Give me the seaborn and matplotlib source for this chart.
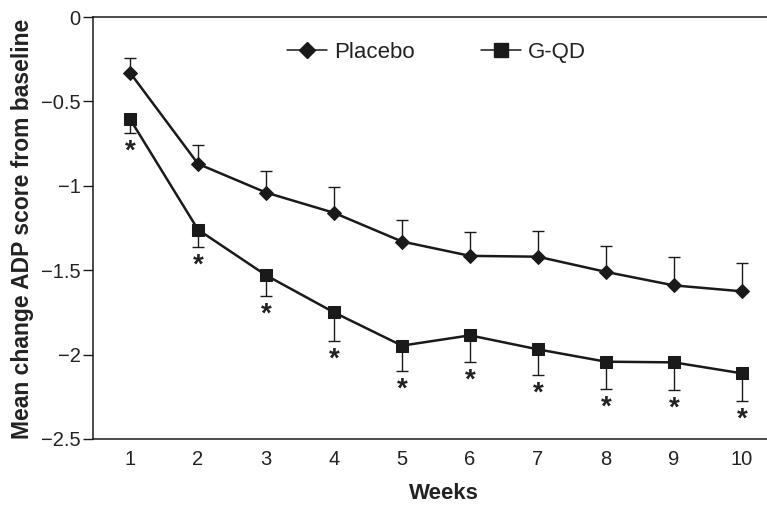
import numpy as np
import pandas as pd
import matplotlib
matplotlib.use("Agg")
import matplotlib.pyplot as plt
import seaborn as sns
from matplotlib.lines import Line2D

weeks = [1, 2, 3, 4, 5, 6, 7, 8, 9, 10]
placebo = [-0.33, -0.87, -1.04, -1.16, -1.33, -1.415, -1.42, -1.51, -1.59, -1.625]
placebo_err = [0.09, 0.11, 0.13, 0.15, 0.125, 0.14, 0.15, 0.155, 0.17, 0.165]
gqd = [-0.605, -1.26, -1.53, -1.75, -1.947, -1.886, -1.969, -2.042, -2.046, -2.111]
gqd_err = [0.08, 0.105, 0.125, 0.17, 0.15, 0.158, 0.152, 0.162, 0.164, 0.162]
y_ticks = [0, -0.5, -1, -1.5, -2, -2.5]
y_tick_labels = ["0", "\u22120.5", "\u22121", "\u22121.5", "\u22122", "\u22122.5"]

sns.set_style("ticks")
plt.rcParams['font.family'] = ['Liberation Sans', 'DejaVu Sans']

df = pd.DataFrame({
    "Weeks": weeks * 2,
    "value": placebo + gqd,
    "group": ["Placebo"] * len(weeks) + ["G-QD"] * len(weeks),
})

fig = plt.figure(figsize=(7.67, 5.05), dpi=100)
ax = fig.add_axes([0.1213, 0.1307, 0.8787, 0.8356])
col = "#1a1a1a"
txt = "#222222"

sns.lineplot(data=df, x="Weeks", y="value", hue="group", style="group",
             markers={"Placebo": "D", "G-QD": "s"}, dashes=False,
             palette={"Placebo": col, "G-QD": col},
             markersize=7.5, linewidth=1.8, markeredgecolor=col, ax=ax,
             legend=False)
for m_line, ms in zip(ax.lines, [7.0, 8.0]):
    m_line.set_markersize(ms)

ax.errorbar(weeks, placebo, yerr=[np.zeros(len(weeks)), placebo_err], fmt="none",
            ecolor=col, elinewidth=1.0, capsize=4, capthick=1.0, zorder=1)
ax.errorbar(weeks, gqd, yerr=[gqd_err, np.zeros(len(weeks))], fmt="none",
            ecolor=col, elinewidth=1.0, capsize=4, capthick=1.0, zorder=1)

for w, v, e in zip(weeks, gqd, gqd_err):
    ax.text(w, v - e - 0.11, "*", ha="center", va="center", fontsize=20,
            color=txt, fontweight="bold")

handles = [Line2D([], [], color=col, marker="D", markersize=8, lw=1.1),
           Line2D([], [], color=col, marker="s", markersize=10, lw=1.1)]
ax.legend(handles, ["Placebo", "G-QD"], ncol=2, frameon=False, loc="center left",
          bbox_to_anchor=(0.288, 0.917), fontsize=16, handlelength=1.8,
          columnspacing=3.0, handletextpad=0.3, borderpad=0, borderaxespad=0,
          labelcolor=txt)

ax.set_xlim(0.455, 10.37)
ax.set_ylim(-2.5, 0)
ax.set_xticks(weeks)
ax.set_yticks(y_ticks)
ax.set_yticklabels(y_tick_labels)
ax.tick_params(axis="x", length=0, pad=8, labelsize=14.5, colors=txt)
ax.tick_params(axis="y", length=7, width=1, labelsize=14.5, colors=txt, direction="out", pad=2)
ax.tick_params(axis="y", color=col)
ax.spines["right"].set_visible(False)
for s in ["left", "bottom", "top"]:
    ax.spines[s].set_color(col)
    ax.spines[s].set_linewidth(1.1)
ax.set_xlabel("Weeks", fontsize=16, fontweight="bold", color=txt)
ax.xaxis.set_label_coords(0.521, -0.104)
ax.set_ylabel("Mean change ADP score from baseline", fontsize=16.5, fontweight="bold",
              color=txt)
ax.yaxis.set_label_coords(-0.087, 0.497)

fig.savefig("out.png", dpi=100)
